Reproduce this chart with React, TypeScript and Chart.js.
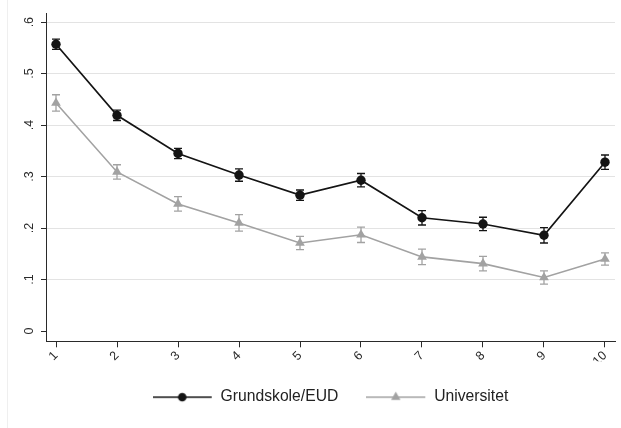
import React, { useEffect, useRef } from "react";
import { Chart, registerables } from "chart.js";

Chart.register(...registerables);

// ---- data ----
const categories = [1, 2, 3, 4, 5, 6, 7, 8, 9, 10];
const xTickLabels = ["1", "2", "3", "4", "5", "6", "7", "8", "9", "10"];
const seriesNames = ["Grundskole/EUD", "Universitet"];
const grundskoleValues = [0.557, 0.419, 0.345, 0.303, 0.264, 0.293, 0.22, 0.208, 0.186, 0.328];
const grundskoleErrors = [0.01, 0.01, 0.01, 0.012, 0.01, 0.013, 0.014, 0.013, 0.015, 0.014];
const universitetValues = [0.443, 0.309, 0.247, 0.21, 0.171, 0.187, 0.144, 0.131, 0.104, 0.14];
const universitetErrors = [0.016, 0.014, 0.014, 0.016, 0.013, 0.015, 0.015, 0.014, 0.013, 0.012];
const yTickValues = [0, 0.1, 0.2, 0.3, 0.4, 0.5, 0.6];
const yTickLabels = ["0", ".1", ".2", ".3", ".4", ".5", ".6"];

const FONT = "'Liberation Sans', Arial, Helvetica, sans-serif";
const BLACK = "#141414";
const GREY = "#a2a2a2";
const AXIS = "#2a2a2a";

function legendSymbol(color: string, kind: "circle" | "triangle"): HTMLCanvasElement {
  const c = document.createElement("canvas");
  c.width = 60;
  c.height = 14;
  const ctx = c.getContext("2d")!;
  ctx.strokeStyle = color;
  ctx.fillStyle = color;
  ctx.lineWidth = 1.4;
  ctx.beginPath();
  ctx.moveTo(0, 7);
  ctx.lineTo(59, 7);
  ctx.stroke();
  ctx.beginPath();
  if (kind === "circle") {
    ctx.arc(29.5, 7, 4.3, 0, Math.PI * 2);
  } else {
    const r = 5.4;
    ctx.moveTo(29.5, 7 - r);
    ctx.lineTo(29.5 + r * Math.sin(Math.PI / 3), 7 + r / 2);
    ctx.lineTo(29.5 - r * Math.sin(Math.PI / 3), 7 + r / 2);
    ctx.closePath();
  }
  ctx.fill();
  return c;
}

const errorBarPlugin = {
  id: "errorBars",
  beforeDatasetsDraw(chart: any) {
    const { ctx } = chart;
    const xs = chart.scales.x;
    const ys = chart.scales.y;
    chart.data.datasets.forEach((ds: any) => {
      const errs: number[] = ds.errors || [];
      ctx.save();
      ctx.strokeStyle = ds.borderColor;
      ctx.lineWidth = 1.3;
      ds.data.forEach((pt: any, j: number) => {
        const px = xs.getPixelForValue(pt.x);
        const top = ys.getPixelForValue(pt.y + errs[j]);
        const bot = ys.getPixelForValue(pt.y - errs[j]);
        const cap = 4;
        ctx.beginPath();
        ctx.moveTo(px, top);
        ctx.lineTo(px, bot);
        ctx.moveTo(px - cap, top);
        ctx.lineTo(px + cap, top);
        ctx.moveTo(px - cap, bot);
        ctx.lineTo(px + cap, bot);
        ctx.stroke();
      });
      ctx.restore();
    });
  },
};

export default function App() {
  const canvasRef = useRef<HTMLCanvasElement | null>(null);

  useEffect(() => {
    if (!canvasRef.current) return;
    const symbols = [legendSymbol(BLACK, "circle"), legendSymbol(GREY, "triangle")];
    const chart = new Chart(canvasRef.current, {
      type: "line",
      data: {
        datasets: [
          {
            label: seriesNames[0],
            data: categories.map((c, i) => ({ x: c, y: grundskoleValues[i] })),
            errors: grundskoleErrors,
            borderColor: BLACK,
            backgroundColor: BLACK,
            borderWidth: 1.7,
            pointStyle: "circle",
            pointRadius: 4.7,
            pointBorderWidth: 0,
            tension: 0,
          } as any,
          {
            label: seriesNames[1],
            data: categories.map((c, i) => ({ x: c, y: universitetValues[i] })),
            errors: universitetErrors,
            borderColor: GREY,
            backgroundColor: GREY,
            borderWidth: 1.6,
            pointStyle: "triangle",
            pointRadius: 5.6,
            pointBorderWidth: 0,
            tension: 0,
          } as any,
        ],
      },
      options: {
        animation: false,
        responsive: false,
        devicePixelRatio: 1,
        events: [],
        layout: { padding: { left: 0, right: 6, top: 12, bottom: 13 } },
        scales: {
          x: {
            type: "linear",
            min: 0.836,
            max: 10.164,
            afterBuildTicks: (s: any) => {
              s.ticks = categories.map((v) => ({ value: v }));
            },
            afterFit: (s: any) => {
              s.height = 20;
            },
            ticks: {
              callback: (_v: any, i: number) => xTickLabels[i],
              minRotation: 45,
              maxRotation: 45,
              autoSkip: false,
              padding: 1,
              color: AXIS,
              font: { family: FONT, size: 12.5 },
            },
            grid: {
              drawOnChartArea: false,
              drawTicks: true,
              tickLength: 6,
              tickColor: AXIS,
              color: AXIS,
            },
            border: { display: true, color: AXIS, width: 1 },
          },
          y: {
            type: "linear",
            min: -0.0199,
            max: 0.6168,
            afterBuildTicks: (s: any) => {
              s.ticks = yTickValues.map((v) => ({ value: v }));
            },
            afterFit: (s: any) => {
              s.width = 46;
            },
            ticks: {
              callback: (_v: any, i: number) => yTickLabels[i],
              minRotation: 90,
              maxRotation: 90,
              crossAlign: "center",
              padding: 6,
              color: AXIS,
              font: { family: FONT, size: 12.5 },
            },
            grid: {
              color: (c: any) => (c.tick && c.tick.value === 0 ? "rgba(0,0,0,0)" : "#e3e3e3"),
              lineWidth: 1,
              drawTicks: true,
              tickLength: 5,
              tickColor: AXIS,
            },
            border: { display: true, color: AXIS, width: 1 },
          },
        },
        plugins: {
          tooltip: { enabled: false },
          legend: {
            position: "bottom",
            fullSize: false,
            align: "center",
            labels: {
              usePointStyle: true,
              pointStyleWidth: 60,
              padding: 28,
              color: "#222",
              font: { family: FONT, size: 15.7 },
              generateLabels: () =>
                seriesNames.map((name, i) => ({
                  text: name,
                  pointStyle: symbols[i] as any,
                  fillStyle: i === 0 ? BLACK : GREY,
                  strokeStyle: i === 0 ? BLACK : GREY,
                  lineWidth: 0,
                  hidden: false,
                  datasetIndex: i,
                  fontColor: "#222",
                })),
            },
          },
        },
      } as any,
      plugins: [errorBarPlugin],
    });
    return () => chart.destroy();
  }, []);

  return (
    <div
      style={{
        position: "fixed",
        left: 0,
        top: 0,
        width: 621,
        height: 428,
        background: "#fff",
        overflow: "hidden",
      }}
    >
      <div
        style={{ position: "absolute", left: 7, top: 0, width: 1, height: 428, background: "#efefef" }}
      />
      <canvas
        ref={canvasRef}
        width={621}
        height={428}
        style={{ position: "absolute", left: 0, top: 0, width: 621, height: 428 }}
      />
    </div>
  );
}
